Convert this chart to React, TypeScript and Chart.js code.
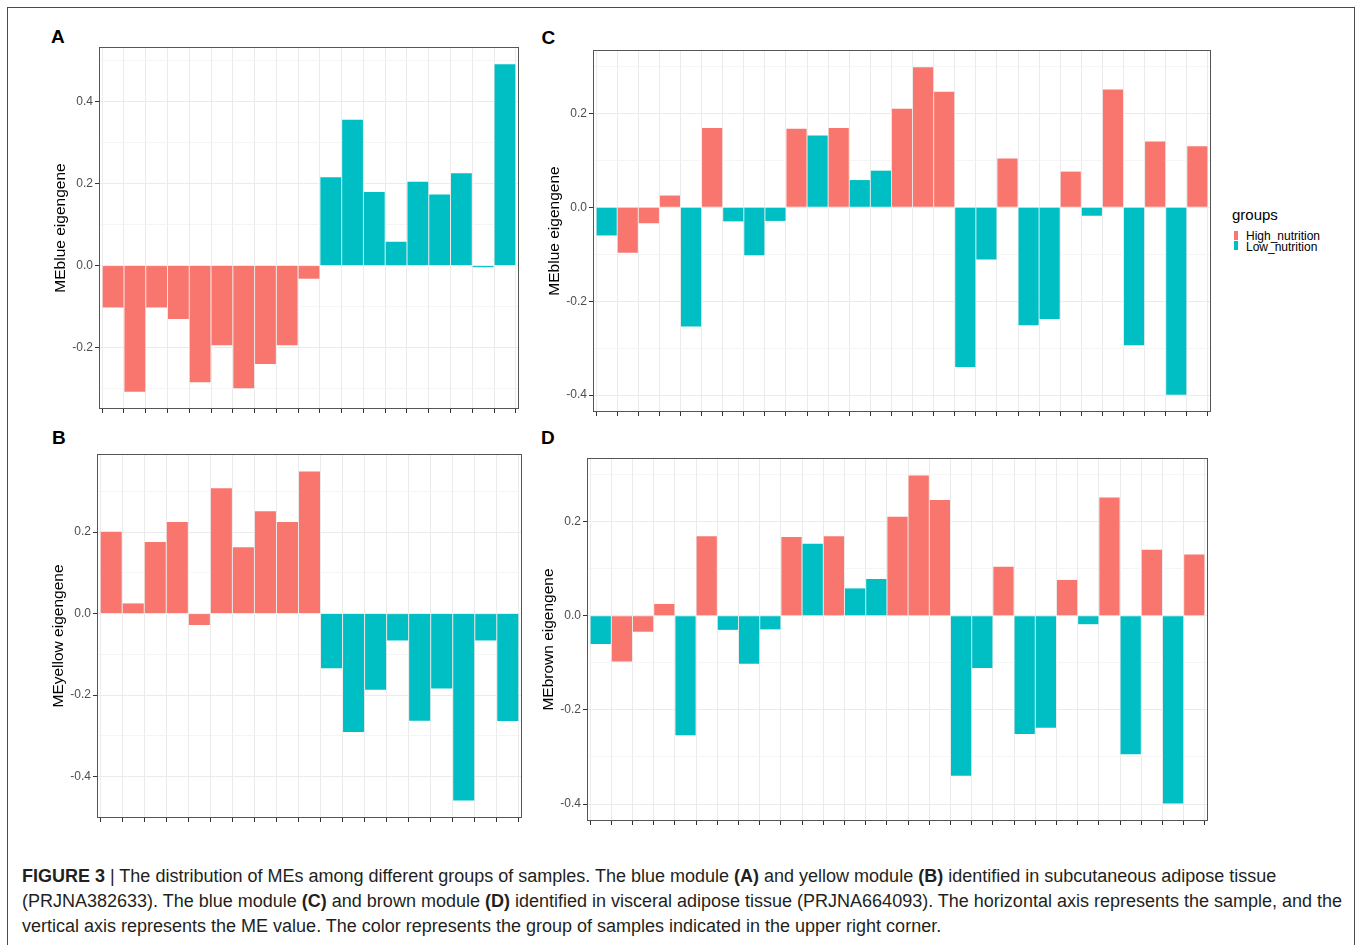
import React, { useEffect, useRef } from "react";
import { Chart, registerables } from "chart.js";

Chart.register(...registerables);

// ---------- data ----------
const HIGH = "High_nutrition";
const LOW = "Low_nutrition";

// Panel A: MEblue (subcutaneous, PRJNA382633)
const aValues = [-0.102, -0.307, -0.102, -0.130, -0.284, -0.194, -0.299, -0.240, -0.194, -0.032,
  0.215, 0.355, 0.179, 0.058, 0.204, 0.173, 0.225, -0.004, 0.490];
const aGroups = [HIGH, HIGH, HIGH, HIGH, HIGH, HIGH, HIGH, HIGH, HIGH, HIGH,
  LOW, LOW, LOW, LOW, LOW, LOW, LOW, LOW, LOW];

// Panel B: MEyellow (subcutaneous, PRJNA382633)
const bValues = [0.201, 0.025, 0.176, 0.225, -0.028, 0.308, 0.163, 0.251, 0.225, 0.349,
  -0.134, -0.291, -0.187, -0.066, -0.263, -0.184, -0.459, -0.066, -0.264];
const bGroups = [HIGH, HIGH, HIGH, HIGH, HIGH, HIGH, HIGH, HIGH, HIGH, HIGH,
  LOW, LOW, LOW, LOW, LOW, LOW, LOW, LOW, LOW];

// Panel C: MEblue (visceral, PRJNA664093)
const cValues = [-0.060, -0.097, -0.034, 0.025, -0.254, 0.169, -0.030, -0.102, -0.029, 0.167,
  0.153, 0.169, 0.058, 0.078, 0.210, 0.298, 0.246, -0.340, -0.111, 0.104,
  -0.251, -0.238, 0.076, -0.018, 0.251, -0.294, 0.140, -0.399, 0.130];
const cGroups = [LOW, HIGH, HIGH, HIGH, LOW, HIGH, LOW, LOW, LOW, HIGH,
  LOW, HIGH, LOW, LOW, HIGH, HIGH, HIGH, LOW, LOW, HIGH,
  LOW, LOW, HIGH, LOW, HIGH, LOW, HIGH, LOW, HIGH];

// Panel D: MEbrown (visceral, PRJNA664093)
const dValues = [-0.060, -0.097, -0.034, 0.025, -0.254, 0.169, -0.030, -0.102, -0.029, 0.167,
  0.153, 0.169, 0.058, 0.078, 0.210, 0.298, 0.246, -0.340, -0.111, 0.104,
  -0.251, -0.238, 0.076, -0.018, 0.251, -0.294, 0.140, -0.399, 0.130];
const dGroups = [LOW, HIGH, HIGH, HIGH, LOW, HIGH, LOW, LOW, LOW, HIGH,
  LOW, HIGH, LOW, LOW, HIGH, HIGH, HIGH, LOW, LOW, HIGH,
  LOW, LOW, HIGH, LOW, HIGH, LOW, HIGH, LOW, HIGH];

const legendGroups = [HIGH, LOW];

// ---------- styles ----------
const COLORS: Record<string, string> = { [HIGH]: "#F8766D", [LOW]: "#00BFC4" };
const FONT = "'Liberation Sans', Arial, Helvetica, sans-serif";
const Y_AXIS_W = 70;
const X_AXIS_H = 16;
const PAD_T = 10;
const PAD_R = 10;
const TITLE_SIZE = 15.5;

const framePlugin = {
  id: "panelFrame",
  afterDraw(chart: any) {
    const { ctx, chartArea: a } = chart;
    ctx.save();
    ctx.strokeStyle = "#555555";
    ctx.lineWidth = 1;
    ctx.strokeRect(a.left - 0.5, a.top - 0.5, a.right - a.left + 1, a.bottom - a.top + 1);
    ctx.restore();
  },
};

type PanelProps = {
  values: number[];
  groups: string[];
  yTitle: string;
  plotL: number;
  plotT: number;
  plotR: number;
  plotB: number;
};

function Panel({ values, groups, yTitle, plotL, plotT, plotR, plotB }: PanelProps) {
  const ref = useRef<HTMLCanvasElement | null>(null);
  const left = plotL - Y_AXIS_W;
  const top = plotT - PAD_T;
  const width = plotR - plotL + Y_AXIS_W + PAD_R;
  const height = plotB - plotT + PAD_T + X_AXIS_H;

  useEffect(() => {
    if (!ref.current) return;
    const lo = Math.min(0, ...values);
    const hi = Math.max(0, ...values);
    const span = hi - lo;
    const yMin = lo - 0.05 * span;
    const yMax = hi + 0.05 * span;
    const n = values.length;
    const isMajor = (v: number) => Math.round(v * 10) % 2 === 0;
    const titleLine = TITLE_SIZE * 1.2;

    const chart = new Chart(ref.current, {
      type: "bar",
      data: {
        datasets: [
          {
            data: values.map((v, i) => ({ x: i, y: v })),
            backgroundColor: groups.map((g) => COLORS[g]),
            borderWidth: 0,
            barPercentage: 0.955,
            categoryPercentage: 1,
          },
        ],
      },
      plugins: [framePlugin],
      options: {
        responsive: false,
        animation: false,
        events: [],
        layout: { padding: { left: 0, top: PAD_T, right: PAD_R, bottom: 0 } },
        plugins: { legend: { display: false }, tooltip: { enabled: false } },
        scales: {
          x: {
            type: "linear",
            min: -0.6,
            max: n - 1 + 0.6,
            offset: false,
            border: { display: false },
            ticks: { display: false, stepSize: 1, includeBounds: false },
            grid: {
              color: "#EBEBEB",
              lineWidth: 1,
              tickColor: "#333333",
              tickWidth: 1,
              tickLength: 5,
              drawTicks: true,
            },
            afterFit: (s: any) => {
              s.height = X_AXIS_H;
            },
          },
          y: {
            type: "linear",
            min: yMin,
            max: yMax,
            border: { display: false },
            ticks: {
              stepSize: 0.1,
              includeBounds: false,
              autoSkip: false,
              padding: 2,
              color: "#4D4D4D",
              font: { family: FONT, size: 12 },
              callback: (v: any) => {
                const k = Math.round(Number(v) * 10);
                return k % 2 === 0 ? (k / 10).toFixed(1) : "";
              },
            },
            grid: {
              color: (c: any) => (c.tick && isMajor(c.tick.value) ? "#EBEBEB" : "#F3F3F3"),
              lineWidth: (c: any) => (c.tick && isMajor(c.tick.value) ? 1 : 0.8),
              tickColor: (c: any) => (c.tick && isMajor(c.tick.value) ? "#333333" : "rgba(0,0,0,0)"),
              tickWidth: 1,
              tickLength: 5,
              drawTicks: true,
            },
            title: {
              display: true,
              text: yTitle,
              color: "#000000",
              font: { family: FONT, size: TITLE_SIZE },
              padding: { top: Y_AXIS_W - 39 - titleLine / 2, bottom: 0 },
            },
            afterFit: (s: any) => {
              s.width = Y_AXIS_W;
            },
          },
        },
      } as any,
    });
    return () => chart.destroy();
  }, [values, groups, yTitle]);

  return (
    <canvas
      ref={ref}
      width={width}
      height={height}
      style={{ position: "absolute", left, top, width, height }}
    />
  );
}

function PanelLabel({ text, x, capTop }: { text: string; x: number; capTop: number }) {
  const fs = 19;
  return (
    <div
      style={{
        position: "absolute",
        left: x,
        top: capTop - 0.1305 * fs,
        fontFamily: FONT,
        fontWeight: "bold",
        fontSize: fs,
        lineHeight: `${fs}px`,
        color: "#000",
      }}
    >
      {text}
    </div>
  );
}

export default function App() {
  const captionStyle: React.CSSProperties = {
    whiteSpace: "nowrap",
    height: 25,
    lineHeight: "25px",
  };
  return (
    <div
      style={{
        position: "absolute",
        left: 0,
        top: 0,
        width: 1358,
        height: 945,
        overflow: "hidden",
        background: "#ffffff",
      }}
    >
      {/* figure frame */}
      <div
        style={{
          position: "absolute",
          left: 7,
          top: 7,
          width: 1348,
          height: 950,
          border: "1px solid #4a4a4a",
          boxSizing: "border-box",
        }}
      />

      <PanelLabel text="A" x={51} capTop={29.5} />
      <PanelLabel text="B" x={52} capTop={430} />
      <PanelLabel text="C" x={541.5} capTop={30} />
      <PanelLabel text="D" x={541} capTop={430} />

      <Panel values={aValues} groups={aGroups} yTitle="MEblue eigengene" plotL={100} plotT={48} plotR={518} plotB={408} />
      <Panel values={bValues} groups={bGroups} yTitle="MEyellow eigengene" plotL={98} plotT={455} plotR={521} plotB={817} />
      <Panel values={cValues} groups={cGroups} yTitle="MEblue eigengene" plotL={594} plotT={51} plotR={1210} plotB={411} />
      <Panel values={dValues} groups={dGroups} yTitle="MEbrown eigengene" plotL={588} plotT={459} plotR={1207} plotB={820} />

      {/* legend */}
      <div style={{ position: "absolute", left: 1232, top: 207, fontFamily: FONT, fontSize: 15, lineHeight: "16px", color: "#000" }}>
        groups
      </div>
      {legendGroups.map((g, i) => (
        <React.Fragment key={g}>
          <div
            style={{
              position: "absolute",
              left: 1234,
              top: 231 + i * 9.5,
              width: 4,
              height: 9,
              background: COLORS[g],
            }}
          />
          <div
            style={{
              position: "absolute",
              left: 1246,
              top: 229 + i * 11,
              fontFamily: FONT,
              fontSize: 12,
              lineHeight: "14px",
              color: "#000",
              whiteSpace: "nowrap",
            }}
          >
            {g}
          </div>
        </React.Fragment>
      ))}

      {/* caption */}
      <div
        style={{
          position: "absolute",
          left: 22,
          top: 863.5,
          fontFamily: FONT,
          fontSize: 18,
          color: "#231F20",
        }}
      >
        <div style={captionStyle}>
          <b>FIGURE 3</b> | The distribution of MEs among different groups of samples. The blue module <b>(A)</b> and
          yellow module <b>(B)</b> identified in subcutaneous adipose tissue
        </div>
        <div style={captionStyle}>
          (PRJNA382633). The blue module <b>(C)</b> and brown module <b>(D)</b> identified in visceral adipose tissue
          (PRJNA664093). The horizontal axis represents the sample, and the
        </div>
        <div style={captionStyle}>
          vertical axis represents the ME value. The color represents the group of samples indicated in the upper
          right corner.
        </div>
      </div>
    </div>
  );
}
